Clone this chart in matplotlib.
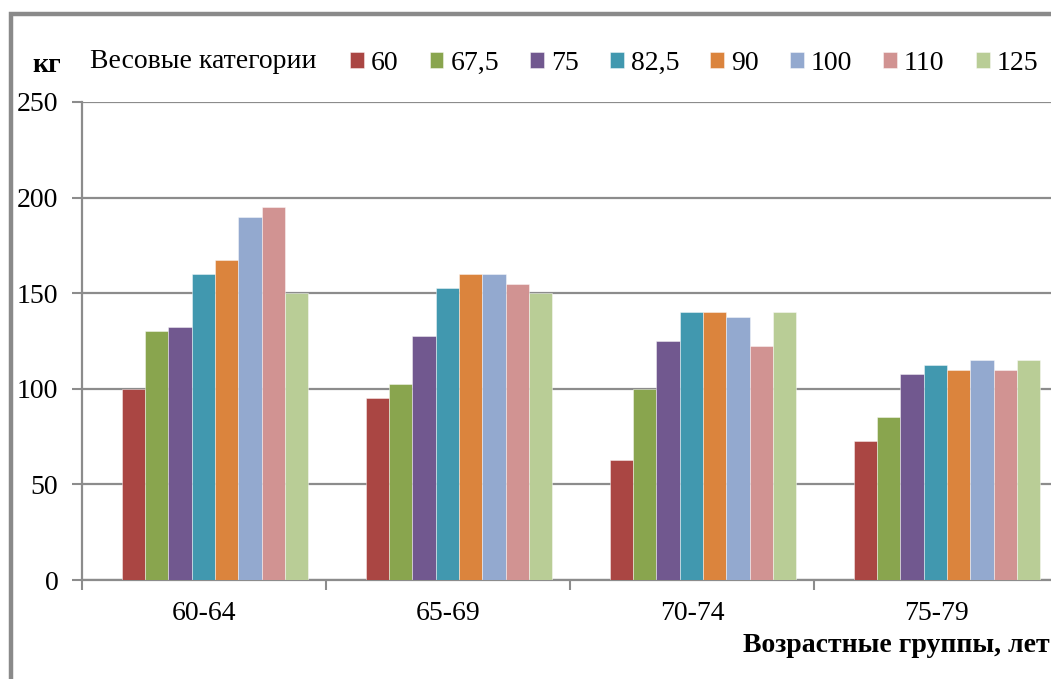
import numpy as np
import matplotlib.pyplot as plt
from matplotlib.patches import Rectangle
from matplotlib.ticker import FixedLocator

plt.rcParams['font.family'] = ['Liberation Serif', 'DejaVu Serif']

age_groups = ['60-64', '65-69', '70-74', '75-79']
weight_classes = ['60', '67,5', '75', '82,5', '90', '100', '110', '125']
# results by weight class, one row per class, one value per age group
results = [
    [100, 95, 62.5, 72.5],
    [130, 102.5, 100, 85],
    [132.5, 127.5, 125, 107.5],
    [160, 152.5, 140, 112.5],
    [167.5, 160, 140, 110],
    [190, 160, 137.5, 115],
    [195, 155, 122.5, 110],
    [150, 150, 140, 115],
]
colors = ['#AA4643', '#89A54E', '#71588F', '#4198AF',
          '#DB843D', '#93A9CF', '#D19392', '#B9CD96']

W, H = 1051, 679
fig = plt.figure(figsize=(W / 100, H / 100), dpi=100)
ax = fig.add_axes([82 / W, 1 - 580 / H, 976 / W, 478 / H])

x = np.arange(len(age_groups))
bw = 0.0955
shift = 0.045
bars = []
for k, (vals, c) in enumerate(zip(results, colors)):
    b = ax.bar(x + shift + (k - 3.5) * bw, vals, bw, color=c,
               edgecolor=(1, 1, 1, 0.5), linewidth=0.6, zorder=3)
    bars.append(b)

ax.set_xlim(-0.5, 3.5)
ax.set_ylim(0, 250)
ax.set_yticks(np.arange(0, 251, 50))
ax.yaxis.grid(True, color='#8c8c8c', linewidth=1.6, zorder=0)
ax.set_axisbelow(True)

ax.set_xticks(x)
ax.set_xticklabels(age_groups)
ax.xaxis.set_minor_locator(FixedLocator(np.arange(-0.5, 4.0, 1.0)))
ax.tick_params(axis='x', which='major', length=0, pad=15, labelsize=20)
ax.tick_params(axis='x', which='minor', length=7, width=1.5, color='#8c8c8c', direction='out')
ax.tick_params(axis='y', length=7, width=1.5, color='#8c8c8c', pad=10, labelsize=20)

for s in ['top', 'right']:
    ax.spines[s].set_visible(False)
for s in ['left', 'bottom']:
    ax.spines[s].set_color('#8c8c8c')
    ax.spines[s].set_linewidth(1.6)

# chart frame
fig.patches.append(Rectangle((10.5 / W, -0.1), 1.2, 1.1 - 14.5 / H,
                             transform=fig.transFigure, fill=False,
                             edgecolor='#8a8a8a', linewidth=3.2))

fig.text(47 / W, 1 - 66 / H, 'кг', fontsize=20, fontweight='bold',
         ha='center', va='center')
fig.text(90 / W, 1 - 62 / H, 'Весовые категории', fontsize=20,
         ha='left', va='center')
fig.legend(bars, weight_classes, ncol=8, loc='center left',
           bbox_to_anchor=(350 / W, 1 - 63 / H), frameon=False,
           fontsize=20, handlelength=0.5, handleheight=0.5,
           handletextpad=0.25, columnspacing=1.12, borderpad=0,
           borderaxespad=0)
fig.text(743 / W, 1 - 645 / H, 'Возрастные группы, лет', fontsize=20,
         fontweight='bold', ha='left', va='center')

fig.savefig('out.png', dpi=100)
